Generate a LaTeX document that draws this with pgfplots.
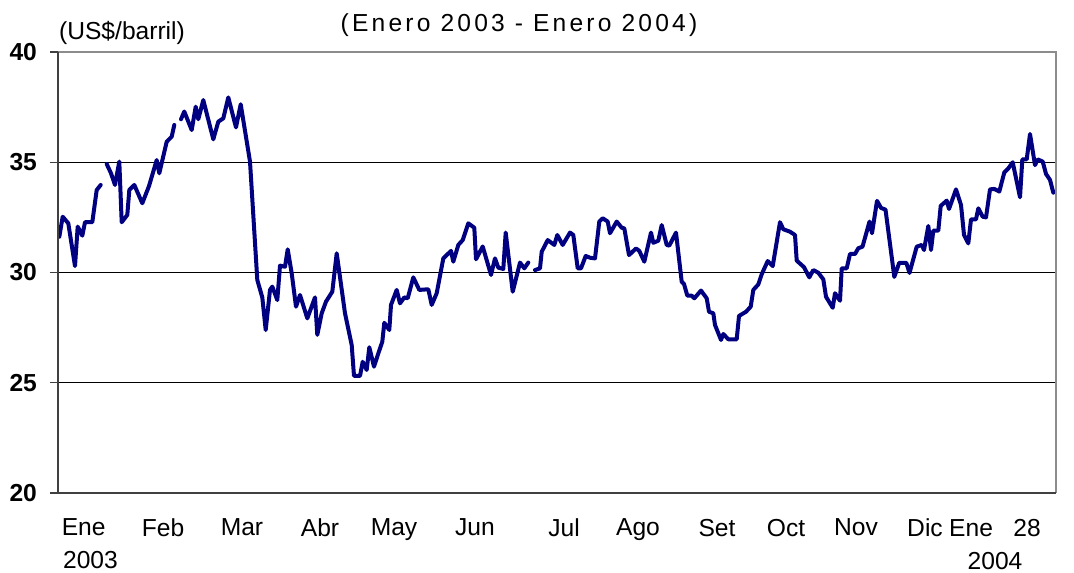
\documentclass[border=0pt]{standalone}
\usepackage{fontspec}
\setmainfont{Liberation Sans}
\usepackage{pgfplots}
\pgfplotsset{compat=1.18}
\definecolor{oil}{HTML}{000080}
\definecolor{frameDark}{HTML}{404040}
\definecolor{frameLight}{HTML}{8C8C8C}

\begin{document}
\begin{tikzpicture}[font=\fontsize{12.3}{16.5}\selectfont]
\begin{axis}[
    scale only axis,
    width=499pt, height=220.5pt,
    xmin=0, xmax=998,
    ymin=20, ymax=40,
    axis line style={draw=none},
    ytick={20,25,30,35,40},
    ymajorgrids,
    major grid style={black, line width=0.5pt},
    ytick pos=left,
    tick align=outside,
    major tick length=4pt,
    ytick style={frameDark, line width=0.7pt},
    yticklabel style={font=\fontsize{12.3}{16.5}\selectfont\bfseries, xshift=-3pt},
    /pgf/number format/assume math mode=true,
    xtick={32.5,105,184,262,336,417,506,580,659,728,798,867,937},
    xticklabels={{Ene\hphantom{0}\\2003},Feb,Mar,Abr,May,Jun,Jul,Ago,Set,Oct,Nov,Dic,{Ene~~~28\\2004}},
    xtick style={draw=none},
    xticklabel style={align=center, anchor=north, yshift=-5.5pt},
    oilline/.style={oil, line width=2pt, line join=round, line cap=round, mark=none},
]
% segment 1
\addplot[oilline] coordinates {
(1.3,31.62) (4.7,32.53) (10.3,32.23) (17,30.29) (19.7,32.08) (24.3,31.67)
(27,32.28) (34.3,32.28) (38.7,33.74) (42.7,33.97)
};
% segment 2
\addplot[oilline] coordinates {
(48.7,34.92) (53,34.50) (57,33.97) (61.3,35.03) (63.7,32.28) (69.3,32.61)
(71.3,33.74) (76.3,33.97) (84.3,33.14) (91,33.92) (98.7,35.10) (101.3,34.50)
(108.7,35.93) (113.7,36.16) (116.3,36.69)
};
% segment 3
\addplot[oilline] coordinates {
(123,36.95) (126.3,37.30) (133.7,36.46) (137.7,37.52) (140.3,36.95) (145.3,37.82)
(155.3,36.04) (160.3,36.84) (165.3,36.99) (170.3,37.94) (178,36.58) (182.7,37.63)
(192,35.03) (199.3,29.66) (204.3,28.87) (207.7,27.39) (212,29.21) (214.3,29.36)
(219.3,28.75) (222,30.31) (227,30.26) (229.7,31.05) (233.7,29.96) (238,28.45)
(242,28.98) (249.3,27.92) (257,28.87) (259.3,27.17) (263.7,28.15) (268,28.68)
(274.3,29.13) (278.7,30.87) (287,28.15) (293.7,26.71) (296,25.31) (302,25.31)
(304.7,25.95) (308.7,25.58) (311.3,26.61) (316,25.73) (320.3,26.33) (324.3,26.86)
(326.3,27.72) (331.3,27.39) (333,28.53) (338.7,29.21) (342,28.60) (346.3,28.87)
(349.7,28.83) (355.3,29.78) (361.3,29.21) (370.3,29.24) (373.7,28.53) (378.7,29.06)
(385.3,30.64) (393,30.98) (395.3,30.49) (400.3,31.25) (404.7,31.47) (410.3,32.23)
(416.3,32.03) (418,30.60) (424.7,31.18) (433,29.89) (437,30.64) (440.3,30.22)
(445.3,30.16) (447.7,31.81) (454.7,29.13) (462,30.45) (466.3,30.19) (470.3,30.45)
};
% segment 4
\addplot[oilline] coordinates {
(477,30.11) (482,30.19) (483.7,30.94) (489.7,31.47) (496.3,31.25) (499.3,31.70)
(504.7,31.25) (512,31.81) (515.3,31.70) (519.7,30.19) (523,30.19) (527.7,30.75)
(532,30.67) (537,30.64) (541.3,32.31) (544.7,32.46) (549.7,32.31) (552,31.78)
(558.7,32.31) (563.7,32.03) (566.3,32.00) (571,30.79) (578,31.09) (581.3,30.98)
(586.3,30.49) (593,31.81) (595.3,31.35) (600.3,31.44) (603.7,32.15) (608.7,31.25)
(611.3,31.22) (618,31.81) (623.7,29.58) (626,29.48) (629.3,28.95) (633.7,28.95)
(636.3,28.83) (643,29.18) (648.7,28.83) (651,28.22) (655.3,28.15) (657,27.62)
(663,26.94) (665.3,27.21) (670.3,26.97) (678.7,26.97) (681,28.03) (688,28.22)
(692.7,28.45) (695.3,29.21) (700.3,29.46) (703.7,29.92) (709.7,30.52) (714.7,30.29)
(722,32.28) (725.3,31.96) (732,31.85) (737,31.70) (738.7,30.54) (746,30.24)
(751.3,29.78) (755.3,30.11) (760.3,29.99) (765.3,29.69) (768,28.90) (774.7,28.40)
(777,29.06) (782,28.72) (783.7,30.19) (788.7,30.19) (792,30.84) (797,30.84)
(800.3,31.10) (804.5,31.17) (811.5,32.31) (814,31.78) (819,33.25) (823,32.93)
(827.5,32.85) (836.3,29.80) (841.2,30.44) (848.3,30.44) (851.5,29.98) (858.7,31.17)
(863.7,31.25) (866,31.02) (870.3,32.11) (873,31.02) (875.3,31.90) (880.3,31.90)
(882.7,33.02) (888.7,33.26) (891,32.88) (898,33.77) (903,33.06) (906,31.70)
(910.3,31.32) (913,32.41) (918,32.41) (920.3,32.91) (924.7,32.53) (928,32.50)
(932,33.77) (936.3,33.79) (941.3,33.67) (946.3,34.54) (950.3,34.72) (954.7,35.00)
(962,33.41) (964.3,35.13) (968.7,35.13) (972,36.28) (977,34.87) (979.7,35.13)
(984.7,35.03) (988,34.47) (992,34.20) (995.3,33.62)
};
\end{axis}
% frame: light plot-area border, dark axis lines
\draw[frameLight, line width=0.8pt] (0,220.5pt) -- (499pt,220.5pt) -- (499pt,0);
\draw[frameDark, line width=0.8pt] (0,220.5pt) -- (0,0) -- (499pt,0);
% header texts
\node at (32pt,230pt) {(US\$/barril)};
\node at (230.5pt,234pt) {\addfontfeatures{LetterSpace=13}(Enero 2003 - Enero 2004)};
\pgfresetboundingbox
\useasboundingbox (-29pt,-39.5pt) rectangle (508pt,246.5pt);
\end{tikzpicture}
\end{document}
